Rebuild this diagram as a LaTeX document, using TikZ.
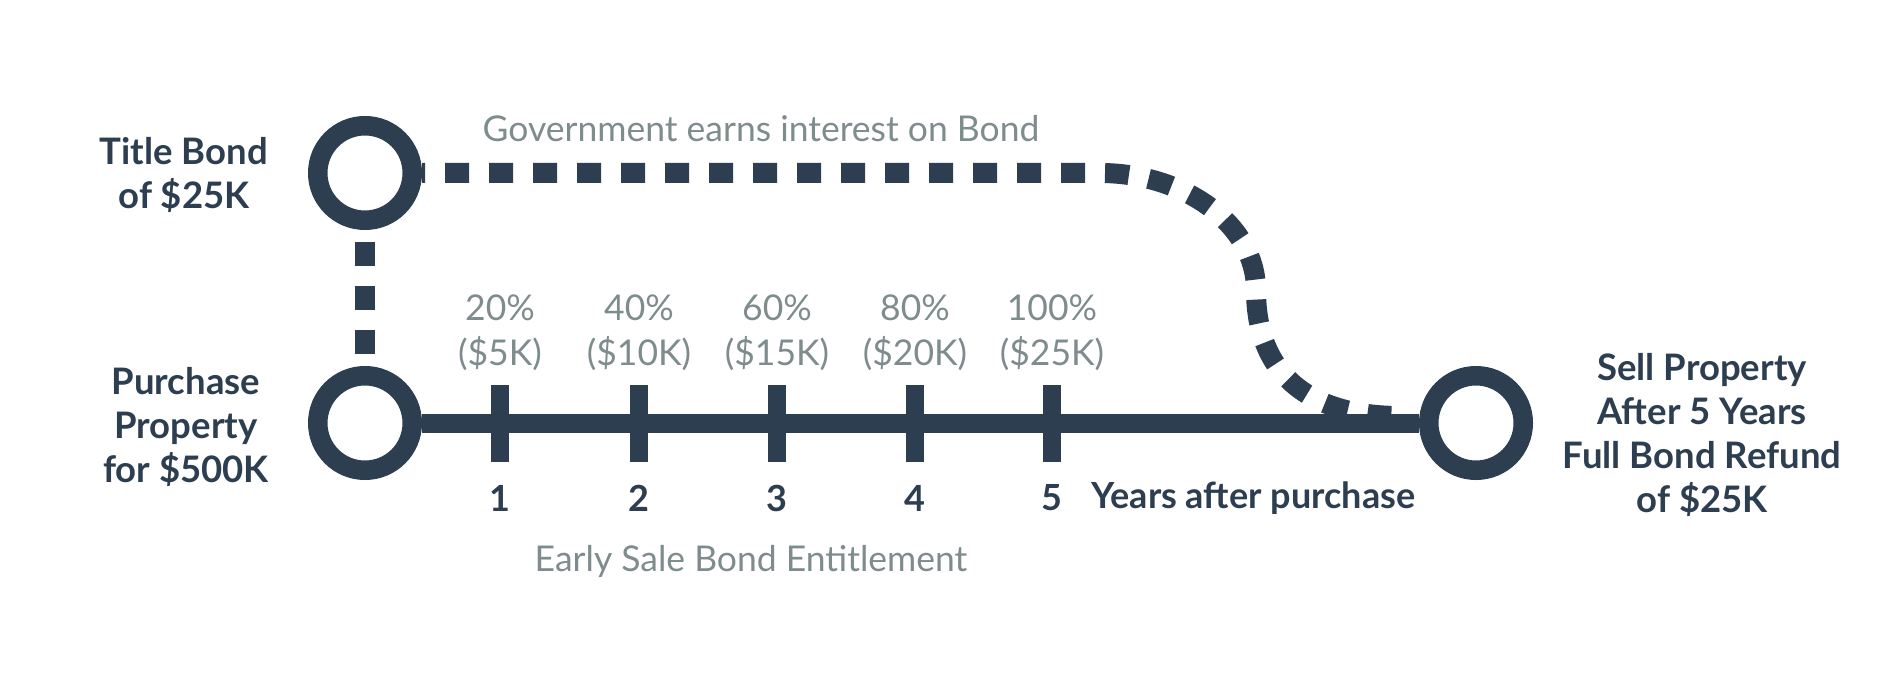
\documentclass[tikz,border=0pt]{standalone}
\usepackage{fontspec}
\setmainfont{Lato}
\definecolor{dark}{HTML}{2C3E50}
\definecolor{grayt}{HTML}{7F8C8D}
\tikzset{
  ring/.style={circle, draw=dark, line width=19.5pt, minimum size=94.5pt, inner sep=0pt},
  tickbar/.style={rectangle, fill=dark, minimum width=18pt, minimum height=77pt, inner sep=0pt},
  bigl/.style={font=\fontsize{36.5}{44}\selectfont\bfseries, text=dark, align=center, inner sep=0pt},
  numl/.style={font=\fontsize{36}{40}\selectfont\bfseries, text=dark, inner sep=0pt},
  grayl/.style={font=\fontsize{35.5}{45}\selectfont, text=grayt, align=center, inner sep=0pt},
  dotline/.style={draw=dark, line width=20pt, dash pattern=on 24pt off 20pt},
  mainline/.style={draw=dark, line width=19pt}
}
\begin{document}
\begin{tikzpicture}[x=1pt,y=-1pt]
\useasboundingbox[fill=white] (0,0) rectangle (1900,700);
% circles
\node[ring] (tb) at (365,173) {};
\node[ring] (pp) at (365,423) {};
\node[ring] (sp) at (1476,423) {};
% ticks
\node[tickbar] (t1) at (500,423) {};
\node[tickbar] (t2) at (639,423) {};
\node[tickbar] (t3) at (777,423) {};
\node[tickbar] (t4) at (915,423) {};
\node[tickbar] (t5) at (1052,423) {};
% connectors
\coordinate (c1) at (1100,173);
\coordinate (c2) at (1256,290);
\coordinate (c3) at (1400,416);
\draw[dotline, dash phase=21pt] (tb.east) -- (c1)
  .. controls (1185,173) and (1256,225) .. (c2)
  .. controls (1256,375) and (1310,416) .. (c3);
\draw[dotline, dash phase=32pt] (tb.south) -- (pp.north);
\draw[mainline] (pp.east) -- (sp.west);
\foreach \i in {1,...,5} {\node[tickbar] at (t\i) {};}
% labels
\node[bigl] (ltb) at (184,175) {Title Bond\\of \$25K};
\node[bigl] (lpp) at (186,427) {Purchase\\Property\\for \$500K};
\node[bigl] (lsp) at (1702,435) {Sell Property\\After 5 Years\\Full Bond Refund\\of \$25K};
\node[grayl] (gov) at (761,129) {Government earns interest on Bond};
\node[grayl] (p1) at (500,333) {20\%\\(\$5K)};
\node[grayl] (p2) at (639,333) {40\%\\(\$10K)};
\node[grayl] (p3) at (777,333) {60\%\\(\$15K)};
\node[grayl] (p4) at (915,333) {80\%\\(\$20K)};
\node[grayl] (p5) at (1052,333) {100\%\\(\$25K)};
\node[numl] (n1) at (500,498) {1};
\node[numl] (n2) at (639,498) {2};
\node[numl] (n3) at (777,498) {3};
\node[numl] (n4) at (915,498) {4};
\node[numl] (n5) at (1052,498) {5};
\node[numl, anchor=west] (yrs) at (1091,498) {Years after purchase};
\node[grayl] (esb) at (751,561) {Early Sale Bond Entitlement};
\end{tikzpicture}
\end{document}
